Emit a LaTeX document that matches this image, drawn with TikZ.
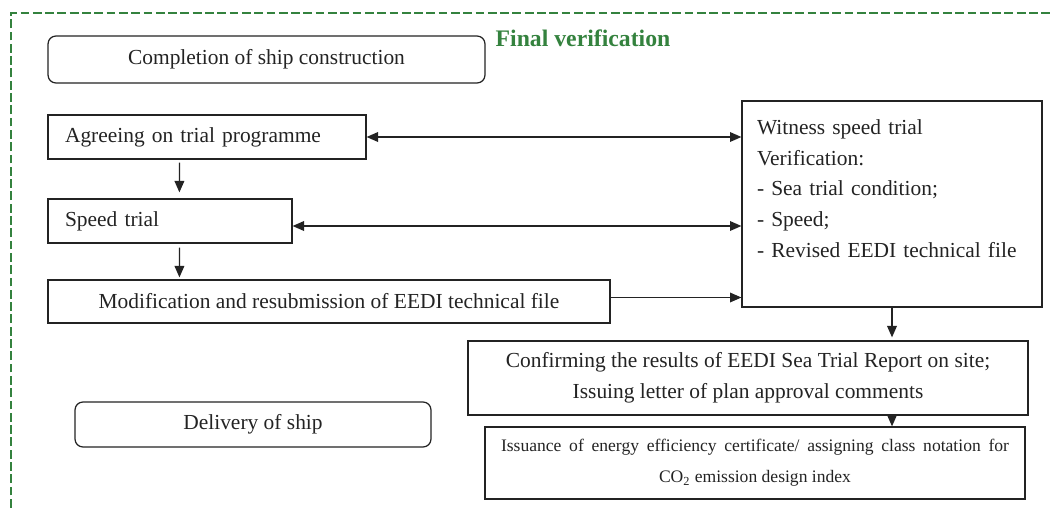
\documentclass[tikz,border=0pt]{standalone}
\usepackage{fontspec}
\setmainfont{Liberation Serif}
\usetikzlibrary{arrows.meta,calc}
\definecolor{fvgreen}{RGB}{52,130,62}
\definecolor{lnc}{RGB}{35,35,35}
\begin{document}
\begin{tikzpicture}[x=0.02cm,y=-0.02cm,
  every node/.style={font=\fontsize{12.2}{17.6}\selectfont, text=lnc},
  sqbox/.style={draw=lnc, line width=0.7pt, inner sep=0pt},
  rbox/.style={sqbox, rounded corners=4.5pt},
  arr/.style={draw=lnc, line width=0.75pt, -{Triangle[length=6.5pt,width=5.5pt]}},
  darr/.style={draw=lnc, line width=0.75pt, {Triangle[length=6.5pt,width=5.5pt]}-{Triangle[length=6.5pt,width=5.5pt]}},
  frame/.style={fvgreen, line width=1.4pt, dash pattern=on 5pt off 2pt},
]
\useasboundingbox (0,0) rectangle (1051,507);
\begin{scope}
  \clip (0,0) rectangle (1051,507);
  \draw[frame] (11,520) -- (11,13) -- (1060,13);
\end{scope}

\node[rbox, minimum width=8.74cm, minimum height=0.94cm] (comp) at (266.5,59.5) {Completion of ship construction};
\node[font=\bfseries\fontsize{13.5}{16}\selectfont, text=fvgreen] (title) at (583,38) {Final verification};

\node[sqbox, minimum height=0.88cm, text width=5.68cm, inner xsep=0.34cm, align=left] (agree) at (207,137) {Agreeing on trial programme};
\node[sqbox, minimum height=0.88cm, text width=4.2cm, inner xsep=0.34cm, align=left] (speed) at (170,221) {Speed trial};
\node[sqbox, minimum width=11.24cm, minimum height=0.86cm] (mod) at (329,301.5) {Modification and resubmission of EEDI technical file};

\node[sqbox, text width=5.4cm, inner xsep=0.3cm, minimum height=4.12cm, align=left] (wit) at (892,204) {Witness speed trial\\Verification:\\- Sea trial condition;\\- Speed;\\- Revised EEDI technical file\\\mbox{}};

\node[sqbox, minimum width=11.2cm, minimum height=1.48cm, align=center] (conf) at (748,378) {Confirming the results of EEDI Sea Trial Report on site;\\Issuing letter of plan approval comments};

\node[rbox, minimum width=7.12cm, minimum height=0.9cm] (deliv) at (253,424.5) {Delivery of ship};

\node[sqbox, minimum width=10.8cm, minimum height=1.44cm, align=center, font=\fontsize{10}{17.6}\selectfont] (iss) at (755,463) {\makebox[10.16cm][s]{Issuance of energy efficiency certificate/ assigning class notation for}\\CO\textsubscript{2} emission design index};

% connectors
\coordinate (sp) at ($(speed.east)+(0,5)$);
\coordinate (mo) at ($(mod.east)+(0,-4)$);
\draw[darr] (agree.east) -- (agree.east -| wit.west);
\draw[darr] (sp) -- (sp -| wit.west);
\draw[arr] (mo) -- (mo -| wit.west);
\draw[arr] ($(agree.south west)+(132,3)$) -- ($(speed.north west)+(132,-6)$);
\draw[arr] ($(speed.south west)+(132,4)$) -- ($(mod.north west)+(132,-2)$);
\draw[arr] (wit.south) -- ($(conf.north -| wit.south)+(0,-3)$);
\draw[arr] (wit.south |- conf.south) -- (wit.south |- iss.north);
\end{tikzpicture}
\end{document}
